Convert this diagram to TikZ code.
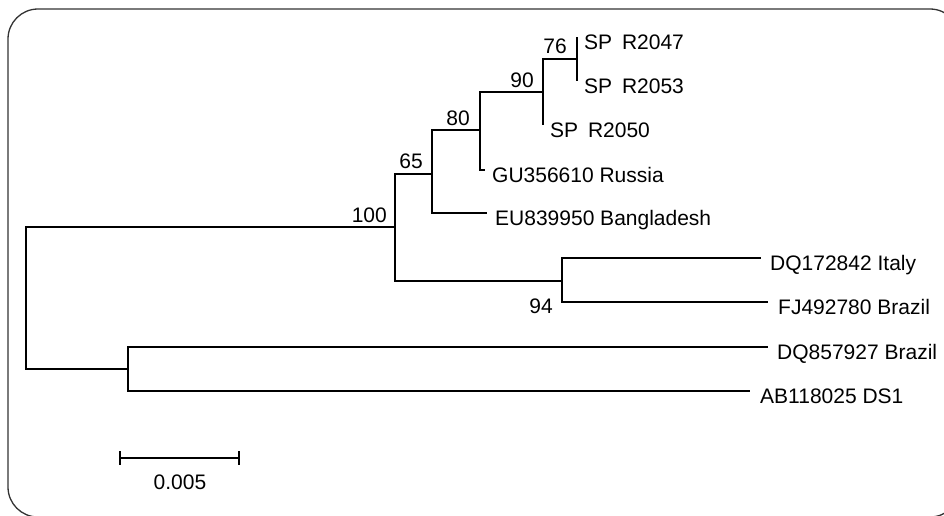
\documentclass[tikz,border=0pt]{standalone}
\usepackage{fontspec}
\setmainfont{Liberation Sans}
\begin{document}
\begin{tikzpicture}[x=1pt,y=-1pt,
  br/.style={line width=2.1pt, black},
  frame/.style={line width=1.3pt, black!80, rounded corners=30pt},
  lbl/.style={anchor=base west, inner sep=0pt, font=\fontsize{21}{25}\selectfont},
  bs/.style={anchor=base east, inner sep=0pt, font=\fontsize{21}{25}\selectfont}]
\useasboundingbox (0,0) rectangle (944,515);
\begin{scope}
\clip (0,0) rectangle (944,515);
\draw[frame] (8,9) rectangle (960,517);
\end{scope}
% internal nodes
\coordinate (root) at (26,298);
\coordinate (n100) at (395,227);
\coordinate (n65) at (432,174);
\coordinate (n80) at (480,130);
\coordinate (n90) at (543,92);
\coordinate (n76) at (577,59);
\coordinate (n94) at (562,281);
\coordinate (nds) at (128,369);
% leaf tips
\coordinate (tSP47) at (577,37);
\coordinate (tSP53) at (577,81);
\coordinate (tSP50) at (543,125);
\coordinate (tGU) at (485,170);
\coordinate (tEU) at (487,213);
\coordinate (tDQ1) at (761,258);
\coordinate (tFJ) at (768,302);
\coordinate (tDQ8) at (768,347);
\coordinate (tAB) at (750,391);
% branches
\draw[br] (root) |- (n100);
\draw[br] (root) |- (nds);
\draw[br] (n100) |- (n65);
\draw[br] (n100) |- (n94);
\draw[br] (n65) |- (n80);
\draw[br] (n65) |- (tEU);
\draw[br] (n80) |- (n90);
\draw[br] (n80) |- (tGU);
\draw[br] (n90) |- (n76);
\draw[br] (n90) |- (tSP50);
\draw[br] (n76) |- (tSP47);
\draw[br] (n76) |- (tSP53);
\draw[br] (n94) |- (tDQ1);
\draw[br] (n94) |- (tFJ);
\draw[br] (nds) |- (tDQ8);
\draw[br] (nds) |- (tAB);
% leaf labels
\node[lbl] (lSP47) at ([shift={(7,12.5)}]tSP47) {SP \hspace{4pt}R2047};
\node[lbl] (lSP53) at ([shift={(7,12.5)}]tSP53) {SP \hspace{4pt}R2053};
\node[lbl] (lSP50) at ([shift={(7,12.5)}]tSP50) {SP \hspace{4pt}R2050};
\node[lbl] (lGU) at ([shift={(7,12.5)}]tGU) {GU356610 Russia};
\node[lbl] (lEU) at ([shift={(8,12.5)}]tEU) {EU839950 Bangladesh};
\node[lbl] (lDQ1) at ([shift={(9,12.5)}]tDQ1) {DQ172842 Italy};
\node[lbl] (lFJ) at ([shift={(10,12.5)}]tFJ) {FJ492780 Brazil};
\node[lbl] (lDQ8) at ([shift={(9,12.5)}]tDQ8) {DQ857927 Brazil};
\node[lbl] (lAB) at ([shift={(10,12.5)}]tAB) {AB118025 DS1};
% bootstrap values
\node[bs] (b76) at ([shift={(-10,-6)}]n76) {76};
\node[bs] (b90) at ([shift={(-9,-5)}]n90) {90};
\node[bs] (b80) at ([shift={(-10,-5)}]n80) {80};
\node[bs] (b65) at ([shift={(-9,-6)}]n65) {65};
\node[bs] (b100) at ([shift={(-8,-5)}]n100) {100};
\node[bs] (b94) at ([shift={(-9,32)}]n94) {94};
% scale bar
\coordinate (sbL) at (120,458);
\coordinate (sbR) at (239,458);
\draw[br] (sbL) -- (sbR);
\draw[br] ([shift={(0,-7)}]sbL) -- ([shift={(0,7)}]sbL);
\draw[br] ([shift={(0,-7)}]sbR) -- ([shift={(0,7)}]sbR);
\node[lbl, anchor=base] (sbt) at (180,489) {0.005};
\end{tikzpicture}
\end{document}
